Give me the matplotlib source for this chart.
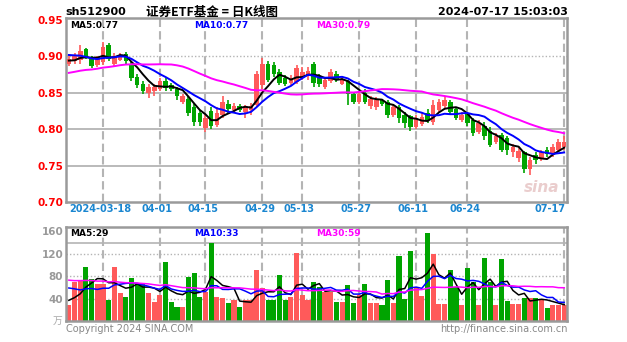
import numpy as np
import pandas as pd
import matplotlib
matplotlib.use("Agg")
import matplotlib.pyplot as plt

plt.rcParams['font.family'] = ['DejaVu Sans']

# ---------------- data ----------------
holidays = ['2024-04-04', '2024-04-05', '2024-05-01', '2024-05-02', '2024-05-03', '2024-06-10']
dates = [d for d in pd.bdate_range('2024-03-08', '2024-07-17') if d.strftime('%Y-%m-%d') not in holidays]

opens = [0.890, 0.893, 0.895, 0.910, 0.898, 0.888, 0.892, 0.915, 0.890, 0.895,
         0.903, 0.890, 0.872, 0.862, 0.850, 0.852, 0.855, 0.866, 0.860, 0.855,
         0.838, 0.842, 0.830, 0.822, 0.802, 0.825, 0.806, 0.820, 0.835, 0.826,
         0.832, 0.823, 0.826, 0.833, 0.860, 0.890, 0.888, 0.878, 0.870, 0.864,
         0.865, 0.872, 0.873, 0.889, 0.872, 0.858, 0.866, 0.876, 0.862, 0.866,
         0.848, 0.838, 0.850, 0.832, 0.830, 0.840, 0.838, 0.820, 0.830, 0.820,
         0.818, 0.803, 0.807, 0.822, 0.810, 0.826, 0.832, 0.838, 0.828, 0.812,
         0.822, 0.812, 0.796, 0.805, 0.797, 0.783, 0.792, 0.788, 0.768, 0.760,
         0.768, 0.745, 0.765, 0.760, 0.772, 0.766, 0.772, 0.775]
highs = [0.900, 0.905, 0.915, 0.912, 0.900, 0.900, 0.920, 0.918, 0.905, 0.905,
         0.906, 0.892, 0.876, 0.866, 0.862, 0.862, 0.870, 0.870, 0.864, 0.858,
         0.848, 0.845, 0.835, 0.826, 0.820, 0.830, 0.830, 0.845, 0.840, 0.836,
         0.835, 0.833, 0.836, 0.880, 0.898, 0.893, 0.892, 0.882, 0.874, 0.874,
         0.888, 0.885, 0.885, 0.892, 0.876, 0.872, 0.882, 0.880, 0.872, 0.868,
         0.850, 0.852, 0.855, 0.845, 0.844, 0.842, 0.840, 0.834, 0.833, 0.823,
         0.820, 0.820, 0.822, 0.828, 0.840, 0.842, 0.845, 0.840, 0.830, 0.824,
         0.824, 0.815, 0.812, 0.810, 0.803, 0.795, 0.795, 0.790, 0.780, 0.775,
         0.770, 0.762, 0.768, 0.772, 0.775, 0.780, 0.786, 0.790]
lows = [0.887, 0.890, 0.890, 0.897, 0.884, 0.885, 0.888, 0.893, 0.886, 0.893,
        0.888, 0.866, 0.856, 0.848, 0.843, 0.845, 0.852, 0.853, 0.852, 0.840,
        0.835, 0.818, 0.805, 0.805, 0.796, 0.800, 0.803, 0.815, 0.822, 0.822,
        0.823, 0.815, 0.820, 0.830, 0.855, 0.865, 0.872, 0.860, 0.859, 0.860,
        0.862, 0.868, 0.868, 0.858, 0.858, 0.855, 0.864, 0.865, 0.860, 0.833,
        0.834, 0.835, 0.835, 0.828, 0.827, 0.832, 0.816, 0.817, 0.808, 0.802,
        0.797, 0.800, 0.804, 0.808, 0.806, 0.822, 0.828, 0.820, 0.812, 0.810,
        0.805, 0.790, 0.793, 0.785, 0.775, 0.780, 0.768, 0.765, 0.762, 0.755,
        0.740, 0.737, 0.752, 0.756, 0.762, 0.762, 0.770, 0.772]
closes = [0.897, 0.900, 0.908, 0.899, 0.887, 0.897, 0.913, 0.897, 0.900, 0.902,
          0.893, 0.870, 0.860, 0.852, 0.858, 0.858, 0.866, 0.857, 0.855, 0.845,
          0.845, 0.822, 0.810, 0.810, 0.815, 0.805, 0.822, 0.838, 0.828, 0.832,
          0.826, 0.830, 0.832, 0.876, 0.890, 0.868, 0.876, 0.864, 0.862, 0.870,
          0.884, 0.878, 0.880, 0.863, 0.862, 0.868, 0.878, 0.868, 0.868, 0.848,
          0.838, 0.848, 0.838, 0.842, 0.840, 0.835, 0.820, 0.830, 0.815, 0.809,
          0.803, 0.815, 0.817, 0.812, 0.833, 0.838, 0.840, 0.824, 0.816, 0.820,
          0.808, 0.795, 0.808, 0.790, 0.778, 0.790, 0.772, 0.772, 0.776, 0.770,
          0.745, 0.758, 0.758, 0.768, 0.766, 0.775, 0.782, 0.782]
# volume (10k lots)
volumes = [28, 69, 72, 96, 75, 67, 67, 37, 96, 50,
           43, 76, 67, 67, 50, 34, 46, 105, 34, 25,
           25, 78, 85, 43, 52, 139, 43, 41, 32, 37,
           25, 37, 37, 91, 59, 37, 37, 82, 37, 43,
           121, 46, 37, 70, 60, 52, 52, 34, 34, 64,
           32, 46, 67, 32, 32, 28, 73, 32, 117, 40,
           125, 60, 45, 158, 120, 30, 30, 91, 60, 28,
           94, 70, 28, 112, 70, 28, 110, 35, 30, 30,
           42, 42, 42, 38, 24, 28, 28, 28]
# sessions before the visible window (used only for moving averages)
prior_closes = [0.858, 0.862, 0.866, 0.870, 0.864, 0.868, 0.872, 0.866, 0.862, 0.866,
                0.860, 0.856, 0.862, 0.858, 0.855, 0.860, 0.864, 0.858,
                0.880, 0.895, 0.905, 0.912, 0.915, 0.910, 0.906, 0.898, 0.892, 0.894, 0.890]
prior_volumes = [95, 70, 88, 76, 102, 64, 81, 73, 90, 68,
                 85, 77, 92, 71, 79, 84, 66, 88, 75, 76,
                 84, 92, 75, 70, 84, 45, 38, 36, 38]

date_ticks = ['2024-03-18', '2024-04-01', '2024-04-15', '2024-04-29', '2024-05-13',
              '2024-05-27', '2024-06-11', '2024-06-24', '2024-07-17']
ma_periods = [5, 10, 30]

# ---------------- style ----------------
RED = '#ff5a5a'
GREEN = '#00a400'
MA_COLORS = ['#000000', '#0000ff', '#ff00ff']
GRID = '#b4b4b4'
FRAME = '#9a9a9a'
BLUE_TXT = '#1a86d0'

n = len(closes)
x = np.arange(n)
o = np.array(opens); h = np.array(highs); l = np.array(lows); c = np.array(closes)
v = np.array(volumes, dtype=float)
up = c >= o
cols = [RED if u else GREEN for u in up]

allc = pd.Series(list(prior_closes) + list(closes))
allv = pd.Series(list(prior_volumes) + list(volumes))
k = len(prior_closes)
ma_p = [allc.rolling(p).mean().values[k:] for p in ma_periods]
ma_v = [allv.rolling(p).mean().values[k:] for p in ma_periods]

W, H = 627, 342
fig = plt.figure(figsize=(W / 100, H / 100), dpi=100)
fig.patch.set_facecolor('white')

L, R = 66, 567
ax = fig.add_axes([L / W, 1 - 202 / H, (R - L) / W, (202 - 18) / H])
axv = fig.add_axes([L / W, 1 - 321 / H, (R - L) / W, (321 - 227) / H])

for a in (ax, axv):
    a.set_xlim(-0.5, n - 0.5)
    a.tick_params(length=0)
    a.set_xticks([])
    for s in a.spines.values():
        s.set_color(FRAME)
        s.set_linewidth(1.8)

# ---- price panel ----
ax.set_ylim(0.70, 0.9527)
for lev in [0.75, 0.80, 0.85]:
    ax.axhline(lev, color=GRID, lw=1.3, zorder=0)
ax.axhline(0.90, color=GRID, lw=1.0, ls=(0, (1, 1.5)), zorder=0)

date_str = [d.strftime('%Y-%m-%d') for d in dates]
tick_idx = [date_str.index(d) for d in date_ticks]
for ti in tick_idx:
    ax.axvline(ti, color=GRID, lw=1.5, ls=(0, (4, 2)), zorder=0)
    axv.axvline(ti, color=GRID, lw=1.5, ls=(0, (4, 2)), zorder=0)

ax.vlines(x, l, h, colors=cols, lw=1.2, zorder=2)
body = np.maximum(np.abs(c - o), 0.0012)
ax.bar(x, body, bottom=np.minimum(o, c), width=0.8, color=cols, zorder=3, linewidth=0)

for ma, col in zip(ma_p, MA_COLORS):
    ax.plot(x, ma, color=col, lw=1.4, zorder=4)

ax.set_yticks([0.70, 0.75, 0.80, 0.85, 0.90, 0.95])
ax.set_yticklabels(['%.2f' % t for t in [0.70, 0.75, 0.80, 0.85, 0.90, 0.95]],
                   color='red', fontsize=7.5, fontweight='bold')
ax.tick_params(axis='y', pad=2)

lab_x = [0.008, 0.255, 0.5]
for lx, p, ma, col in zip(lab_x, ma_periods, ma_p, MA_COLORS):
    ax.text(lx, 0.985, 'MA%d:%.2f' % (p, ma[-1]), transform=ax.transAxes,
            color=col, fontsize=6.5, fontweight='bold', va='top', ha='left')

for j, (ti, d) in enumerate(zip(tick_idx, date_ticks)):
    lab = d if j == 0 else d[5:]
    if j == len(tick_idx) - 1:
        ax.text(n - 0.8, 0.70 - 0.0025, lab, color=BLUE_TXT, fontsize=7, fontweight='bold',
                ha='right', va='top')
    else:
        ax.text(ti - 0.5, 0.70 - 0.0025, lab, color=BLUE_TXT, fontsize=7, fontweight='bold',
                ha='center', va='top')

ax.text(0.985, 0.04, 'sina', transform=ax.transAxes, color='#e8c8c8', fontsize=11,
        fontweight='bold', style='italic', ha='right', va='bottom', alpha=0.9)

# ---- volume panel ----
axv.set_ylim(0, 168)
for lev in [40, 80, 120]:
    axv.axhline(lev, color=GRID, lw=1.0, ls=(0, (1, 1.5)), zorder=0)
axv.axhline(140, color=GRID, lw=1.2, zorder=0)
axv.bar(x, v, width=0.9, color=cols, linewidth=0, zorder=2)
for ma, col in zip(ma_v, MA_COLORS):
    axv.plot(x, ma, color=col, lw=1.1, zorder=4)
axv.set_yticks([40, 80, 120, 160])
axv.set_yticklabels(['40', '80', '120', '160'], color='#999999', fontsize=7.5, fontweight='bold')
axv.tick_params(axis='y', pad=2)
for lx, p, ma, col in zip(lab_x, ma_periods, ma_v, MA_COLORS):
    axv.text(lx, 0.975, 'MA%d:%d' % (p, int(ma[-1])), transform=axv.transAxes,
             color=col, fontsize=6.5, fontweight='bold', va='top', ha='left')
fig.text(62 / W, 1 - 321 / H, '万', color='#aaaaaa', fontsize=7, ha='right', va='center',
         family=['Noto Sans CJK SC', 'DejaVu Sans'])

# ---- header / footer ----
fig.text(65 / W, 1 - 12 / H, 'sh512900', fontsize=8, fontweight='bold', ha='left', va='center')
fig.text(212 / W, 1 - 12 / H, '证券ETF基金 = 日K线图', fontsize=9, fontweight='bold',
         ha='center', va='center', family=['Noto Sans CJK SC', 'DejaVu Sans'])
fig.text(568 / W, 1 - 12 / H, '2024-07-17 15:03:03', fontsize=8, fontweight='bold',
         ha='right', va='center')
fig.text(66 / W, 1 - 329 / H, 'Copyright 2024 SINA.COM', fontsize=7, color='#888888',
         ha='left', va='center')
fig.text(568 / W, 1 - 329 / H, 'http://finance.sina.com.cn', fontsize=7, color='#888888',
         ha='right', va='center')

fig.savefig('out.png', dpi=100, facecolor='white')
